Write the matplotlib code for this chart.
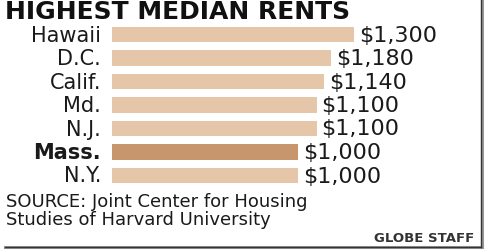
import matplotlib
matplotlib.use("Agg")
import matplotlib.pyplot as plt
from matplotlib.lines import Line2D

# ── Data ─────────────────────────────────────────────────────
states = ["Hawaii", "D.C.", "Calif.", "Md.", "N.J.", "Mass.", "N.Y."]
rents = [1300, 1180, 1140, 1100, 1100, 1000, 1000]
highlight = "Mass."

# ── Style ────────────────────────────────────────────────────
LIGHT = "#e5c6a8"
DARK = "#c8966c"
TEXT = "#1a1a1a"
W, H = 486, 251

fig = plt.figure(figsize=(W / 100, H / 100), dpi=100)
fig.patch.set_facecolor("white")

# axes laid out in pixels: bars start at x=112, ~0.186 px per dollar
x0, scale = 112, 0.186
row0, step = 35.5, 23.5
ax = fig.add_axes([x0 / W, 0, 1 - x0 / W, 1])
ax.set_xlim(0, (W - x0) / scale)
ax.set_ylim((H - row0) / step, -row0 / step)
ax.axis("off")

ypos = list(range(len(states)))
colors = [DARK if s == highlight else LIGHT for s in states]
ax.barh(ypos, rents, height=0.66, color=colors)

for y, s, v in zip(ypos, states, rents):
    ax.annotate(s, (0, y), xytext=(-11, 0), textcoords="offset pixels",
                ha="right", va="center", fontsize=15, color=TEXT,
                fontweight="bold" if s == highlight else "normal")
    ax.annotate(f"${v:,}", (v, y), xytext=(5, 0), textcoords="offset pixels",
                ha="left", va="center", fontsize=16, color=TEXT)

fig.text(5 / W, 1 - 12 / H, "HIGHEST MEDIAN RENTS", ha="left", va="center",
         fontsize=18, fontweight="heavy", color="#111111")
fig.text(6 / W, 1 - 202 / H, "SOURCE: Joint Center for Housing", ha="left",
         va="center", fontsize=13, color=TEXT)
fig.text(6 / W, 1 - 220 / H, "Studies of Harvard University", ha="left",
         va="center", fontsize=13, color=TEXT)
fig.text(474 / W, 1 - 239 / H, "GLOBE STAFF", ha="right", va="center",
         fontsize=9.5, fontweight="bold", color="#333333")

# frame edges (right and bottom, with a soft shadow)
fig.add_artist(Line2D([481.5 / W, 481.5 / W], [1, 3 / H], color="#999999", lw=2.2))
fig.add_artist(Line2D([5 / W, 481.5 / W], [3 / H, 3 / H], color="#999999", lw=2.2))
fig.add_artist(Line2D([481 / W, 481 / W], [1, 3.5 / H], color="#333333", lw=1.0))
fig.add_artist(Line2D([5 / W, 481 / W], [3.5 / H, 3.5 / H], color="#333333", lw=1.0))

plt.savefig("out.png", dpi=100, facecolor="white")
